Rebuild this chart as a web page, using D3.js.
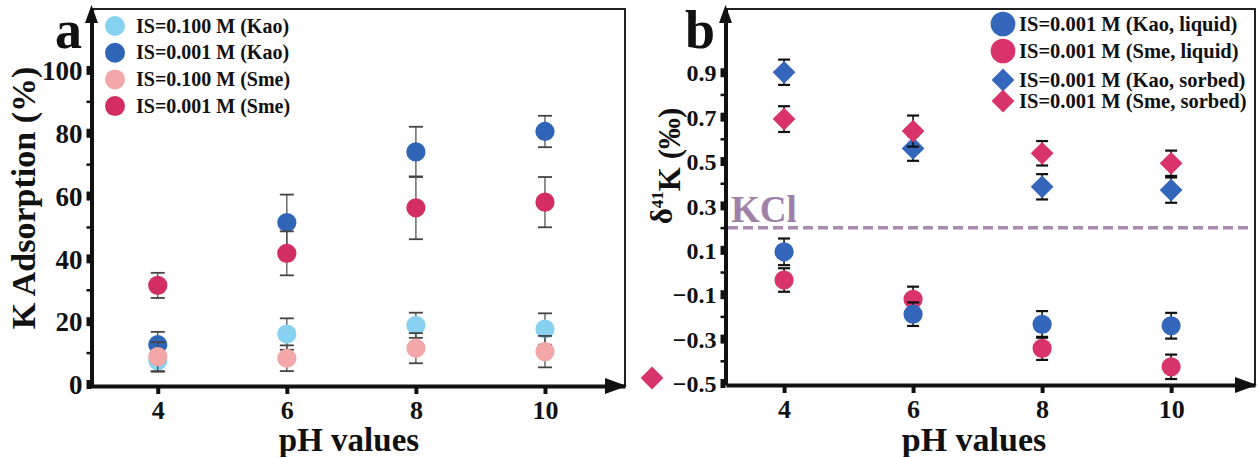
<!DOCTYPE html>
<html>
<head>
<meta charset="utf-8">
<script src="https://cdn.jsdelivr.net/npm/d3@7"></script>
<style>
body { margin: 0; background: #fff; }
text { font-family: "Liberation Serif", "Times New Roman", serif; font-weight: bold; fill: #111; }
</style>
</head>
<body>
<div id="chart"></div>
<script>
var pH = [4, 6, 8, 10];

// panel a : K adsorption (%)
var kao100 = [7.4, 15.9, 18.7, 17.5];
var kao100Err = [3.5, 5, 4, 5];
var kao001 = [12.5, 51.4, 73.9, 80.4];
var kao001Err = [4.1, 8.9, 8, 5];
var sme100 = [8.7, 8.2, 11.4, 10.3];
var sme100Err = [4.6, 4.1, 4.8, 5];
var sme001 = [31.4, 41.6, 56.1, 57.9];
var sme001Err = [4, 7, 10, 8];
var aTicks = [0, 20, 40, 60, 80, 100];
var aMinor = [10, 30, 50, 70, 90];

// panel b : delta 41K (permil)
var kaoLiquid = [0.091, -0.19, -0.236, -0.242];
var kaoLiquidErr = [0.06, 0.053, 0.06, 0.058];
var smeLiquid = [-0.036, -0.123, -0.344, -0.427];
var smeLiquidErr = [0.053, 0.057, 0.052, 0.055];
var kaoSorbed = [0.90, 0.557, 0.384, 0.369];
var kaoSorbedErr = [0.057, 0.056, 0.057, 0.057];
var smeSorbed = [0.689, 0.635, 0.535, 0.49];
var smeSorbedErr = [0.058, 0.07, 0.055, 0.057];
var kcl = 0.2;
var bTicks = [-0.5, -0.3, -0.1, 0.1, 0.3, 0.5, 0.7, 0.9];
var bMinor = [-0.4, -0.2, 0, 0.2, 0.4, 0.6, 0.8];

var lightBlue = "#87d2f1", darkBlue = "#2f64b6", lightPink = "#f3a7a9", crimson = "#d32e62";
var bBlue = "#3467bb", bRed = "#d8336b";

var svg = d3.select("#chart").append("svg")
    .attr("width", 1258)
    .attr("height", 457);

function drawAxes(x, y, ax, ay, major, minor, fmt, tickFont) {
  var right = x.range()[1], top = y.range()[1];
  // frame top and right
  svg.append("path")
      .attr("d", "M" + ax + "," + top + "H" + right + "V" + ay)
      .attr("fill", "none").attr("stroke", "#222").attr("stroke-width", 2);

  var gy = svg.append("g").attr("transform", "translate(" + ax + ",0)");
  gy.call(d3.axisLeft(y).tickValues(minor).tickSize(5).tickSizeOuter(0).tickFormat(""));
  gy.selectAll(".tick line").attr("stroke", "#111").attr("stroke-width", 2.5);
  var gy2 = svg.append("g").attr("transform", "translate(" + ax + ",0)");
  gy2.call(d3.axisLeft(y).tickValues(major).tickSize(5).tickPadding(4).tickSizeOuter(0).tickFormat(fmt));
  gy2.selectAll(".tick line").attr("stroke", "#111").attr("stroke-width", 9);
  gy2.selectAll(".tick text").style("font-size", tickFont + "px").attr("dy", "0.36em");
  gy.select(".domain").remove();
  gy2.select(".domain").attr("stroke", "#111").attr("stroke-width", 4);

  var gx = svg.append("g").attr("transform", "translate(0," + ay + ")");
  gx.call(d3.axisBottom(x).tickValues(pH).tickSize(8).tickPadding(8).tickSizeOuter(0));
  gx.selectAll(".tick line").attr("stroke", "#111").attr("stroke-width", 4);
  gx.selectAll(".tick text").style("font-size", "26px").attr("dy", "0.66em");
  gx.select(".domain").attr("stroke", "#111").attr("stroke-width", 4);

  // arrow heads
  svg.append("path")
      .attr("d", "M" + ax + "," + (top - 4) + "L" + (ax - 6.5) + "," + (top + 14) + "L" + (ax + 6.5) + "," + (top + 14) + "Z")
      .attr("fill", "#111");
  svg.append("path")
      .attr("d", "M" + (right + 2) + "," + ay + "L" + (right - 20) + "," + (ay - 8) + "L" + (right - 20) + "," + (ay + 8) + "Z")
      .attr("fill", "#111");
}

function drawSeries(x, y, vals, errs, color, shape, size, capW, errColor, errW) {
  var g = svg.append("g");
  pH.forEach(function (p, i) {
    var cx = x(p), lo = y(vals[i] - errs[i]), hi = y(vals[i] + errs[i]);
    g.append("line").attr("x1", cx).attr("x2", cx).attr("y1", lo).attr("y2", hi)
        .attr("stroke", errColor).attr("stroke-width", errW);
    [lo, hi].forEach(function (yy) {
      g.append("line").attr("x1", cx - capW / 2).attr("x2", cx + capW / 2).attr("y1", yy).attr("y2", yy)
          .attr("stroke", errColor).attr("stroke-width", errW + 0.6);
    });
  });
  g.selectAll(".m").data(vals).enter().append("path")
      .attr("transform", function (d, i) { return "translate(" + x(pH[i]) + "," + y(d) + ")"; })
      .attr("d", d3.symbol().type(shape).size(size))
      .attr("fill", color);
}

// ---------- panel a ----------
var xa = d3.scaleLinear().domain([2.95, 11.24]).range([90, 625]);
var ya = d3.scaleLinear().domain([-0.64, 119.4]).range([386, 9]);
drawAxes(xa, ya, 91.5, 386, aTicks, aMinor, d3.format("d"), 27);

drawSeries(xa, ya, kao100, kao100Err, lightBlue, d3.symbolCircle, 290, 14, "#444", 1.2);
drawSeries(xa, ya, kao001, kao001Err, darkBlue, d3.symbolCircle, 290, 14, "#444", 1.2);
drawSeries(xa, ya, sme100, sme100Err, lightPink, d3.symbolCircle, 290, 14, "#444", 1.2);
drawSeries(xa, ya, sme001, sme001Err, crimson, d3.symbolCircle, 290, 14, "#444", 1.2);

svg.append("text").attr("x", 82).attr("y", 48).attr("text-anchor", "end")
    .style("font-size", "54px").text("a");
svg.append("text").attr("transform", "translate(35,198) rotate(-90)")
    .attr("text-anchor", "middle").style("font-size", "34px").text("K Adsorption (%)");
svg.append("text").attr("x", 349).attr("y", 451).attr("text-anchor", "middle")
    .style("font-size", "33px").text("pH values");

var legA = [
  { label: "IS=0.100 M (Kao)", color: lightBlue },
  { label: "IS=0.001 M (Kao)", color: darkBlue },
  { label: "IS=0.100 M (Sme)", color: lightPink },
  { label: "IS=0.001 M (Sme)", color: crimson }
];
legA.forEach(function (d, i) {
  var yy = 26 + i * 26.7;
  svg.append("circle").attr("cx", 115).attr("cy", yy).attr("r", 10).attr("fill", d.color);
  svg.append("text").attr("x", 136).attr("y", yy + 6.5).style("font-size", "20px").text(d.label);
});

// ---------- panel b ----------
var xb = d3.scaleLinear().domain([3.1, 11.3]).range([726, 1255]);
var yb = d3.scaleLinear().domain([-0.509, 1.185]).range([385, 9]);
drawAxes(xb, yb, 725.5, 385, bTicks, bMinor, d3.format(".1f"), 24);

svg.append("line")
    .attr("x1", 728).attr("x2", 1253).attr("y1", yb(kcl)).attr("y2", yb(kcl))
    .attr("stroke", "#a98bb2").attr("stroke-width", 3.5).attr("stroke-dasharray", "10,5");
svg.append("text").attr("x", 731).attr("y", 222)
    .style("font-size", "37px").style("fill", "#a080a8").text("KCl");

drawSeries(xb, yb, kaoSorbed, kaoSorbedErr, bBlue, d3.symbolDiamond2, 330, 12, "#111", 1.6);
drawSeries(xb, yb, smeSorbed, smeSorbedErr, bRed, d3.symbolDiamond2, 330, 12, "#111", 1.6);
drawSeries(xb, yb, smeLiquid, smeLiquidErr, bRed, d3.symbolCircle, 290, 12, "#111", 1.6);
drawSeries(xb, yb, kaoLiquid, kaoLiquidErr, bBlue, d3.symbolCircle, 290, 12, "#111", 1.6);

svg.append("text").attr("x", 715).attr("y", 48).attr("text-anchor", "end")
    .style("font-size", "54px").text("b");
var lb = svg.append("text").attr("transform", "translate(672,166) rotate(-90)")
    .attr("text-anchor", "middle").style("font-size", "31px");
lb.append("tspan").text("\u03b4");
lb.append("tspan").attr("dy", "-0.55em").style("font-size", "17px").text("41");
lb.append("tspan").attr("dy", "0.55em").text("K (\u2030)");
svg.append("text").attr("x", 974).attr("y", 451).attr("text-anchor", "middle")
    .style("font-size", "34px").text("pH values");

var legB = [
  { label: "IS=0.001 M (Kao, liquid)", color: bBlue, shape: d3.symbolCircle, size: 480, y: 24 },
  { label: "IS=0.001 M (Sme, liquid)", color: bRed, shape: d3.symbolCircle, size: 480, y: 51 },
  { label: "IS=0.001 M (Kao, sorbed)", color: bBlue, shape: d3.symbolDiamond2, size: 330, y: 80 },
  { label: "IS=0.001 M (Sme, sorbed)", color: bRed, shape: d3.symbolDiamond2, size: 330, y: 101 }
];
legB.forEach(function (d) {
  svg.append("path").attr("transform", "translate(1003," + d.y + ")")
      .attr("d", d3.symbol().type(d.shape).size(d.size)).attr("fill", d.color);
  svg.append("text").attr("x", 1019).attr("y", d.y + 6.5).style("font-size", "20.5px").text(d.label);
});

// stray sorbed marker sitting left of panel b
svg.append("path").attr("transform", "translate(652,378)")
    .attr("d", d3.symbol().type(d3.symbolDiamond2).size(330)).attr("fill", bRed);
</script>
</body>
</html>
